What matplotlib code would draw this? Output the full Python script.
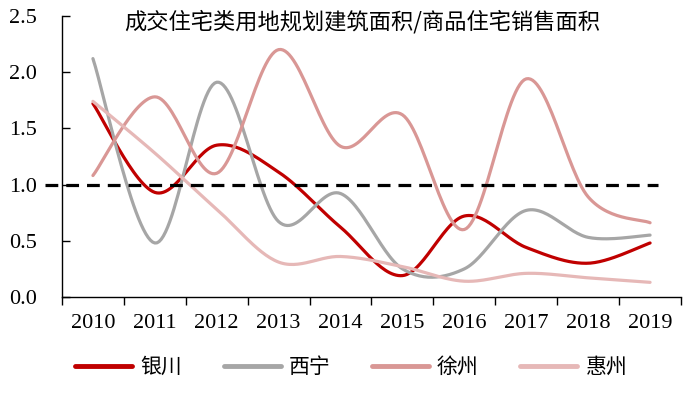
import numpy as np
import matplotlib
matplotlib.use("Agg")
import matplotlib.pyplot as plt

plt.rcParams['font.family'] = ['Liberation Serif', 'Noto Sans CJK SC']

# données
years = ['2010', '2011', '2012', '2013', '2014', '2015', '2016', '2017', '2018', '2019']
yinchuan = [1.72, 0.93, 1.35, 1.11, 0.62, 0.19, 0.72, 0.44, 0.30, 0.48]
xining = [2.12, 0.48, 1.91, 0.67, 0.92, 0.25, 0.25, 0.77, 0.53, 0.55]
xuzhou = [1.08, 1.78, 1.10, 2.20, 1.34, 1.62, 0.60, 1.94, 0.89, 0.66]
huizhou = [1.74, 1.28, 0.78, 0.31, 0.36, 0.27, 0.14, 0.21, 0.17, 0.13]

series = [
    ('银川', yinchuan, '#C00000'),
    ('西宁', xining, '#A6A6A6'),
    ('徐州', xuzhou, '#D99795'),
    ('惠州', huizhou, '#E6B8B7'),
]


def smooth(y, n=30):
    # courbe lissée façon Excel (Catmull-Rom)
    x = np.arange(len(y), dtype=float)
    p = np.column_stack([x, np.asarray(y, dtype=float)])
    pts = np.vstack([p[0], p, p[-1]])
    out = []
    t = np.linspace(0, 1, n)[:, None]
    for i in range(1, len(pts) - 2):
        p0, p1, p2, p3 = pts[i - 1], pts[i], pts[i + 1], pts[i + 2]
        c1 = p1 + (p2 - p0) / 6
        c2 = p2 - (p3 - p1) / 6
        seg = ((1 - t) ** 3) * p1 + 3 * ((1 - t) ** 2) * t * c1 + 3 * (1 - t) * t ** 2 * c2 + t ** 3 * p2
        out.append(seg if i == 1 else seg[1:])
    out = np.vstack(out)
    return out[:, 0], out[:, 1]


fig = plt.figure(figsize=(6.94, 3.97), dpi=100)
ax = fig.add_axes([0.0893, 0.252, 0.892, 0.708])

for name, vals, color in series:
    xs, ys = smooth(vals)
    ax.plot(xs, ys, color=color, linewidth=2.3, label=name, solid_capstyle='round')

# ligne de référence à 1.0
ax.axhline(1.0, xmin=-0.027, xmax=0.963, color='black', linestyle=(0, (4, 2.5)),
           linewidth=2.3, clip_on=False, zorder=5)

ax.set_xlim(-0.5, 9.5)
ax.set_ylim(0, 2.5)
ax.set_yticks([0.0, 0.5, 1.0, 1.5, 2.0, 2.5])
ax.set_yticklabels(['0.0', '0.5', '1.0', '1.5', '2.0', '2.5'])
ax.tick_params(axis='y', direction='in', length=6, width=1, pad=18, labelsize=16)

ax.set_xticks(np.arange(-0.5, 10, 1))
ax.set_xticklabels([])
ax.set_xticks(np.arange(10), minor=True)
ax.set_xticklabels(years, minor=True)
ax.tick_params(axis='x', which='major', direction='out', length=6, width=1)
ax.tick_params(axis='x', which='minor', length=0, pad=12, labelsize=16)

for s in ['top', 'right']:
    ax.spines[s].set_visible(False)
for s in ['left', 'bottom']:
    ax.spines[s].set_linewidth(1)

fig.text(0.522, 0.945, '成交住宅类用地规划建筑面积/商品住宅销售面积', ha='center', va='center',
         fontsize=16, family=['Noto Sans CJK SC', 'DejaVu Sans'])

fig.legend(loc='center', bbox_to_anchor=(0.506, 0.076), ncol=4, frameon=False,
           handlelength=2.74, handletextpad=0.38, columnspacing=2.0,
           prop={'family': ['Noto Sans CJK SC', 'DejaVu Sans'], 'size': 15})

for line in fig.legends[0].get_lines():
    line.set_linewidth(3.5)

fig.savefig('out.png', dpi=100)
